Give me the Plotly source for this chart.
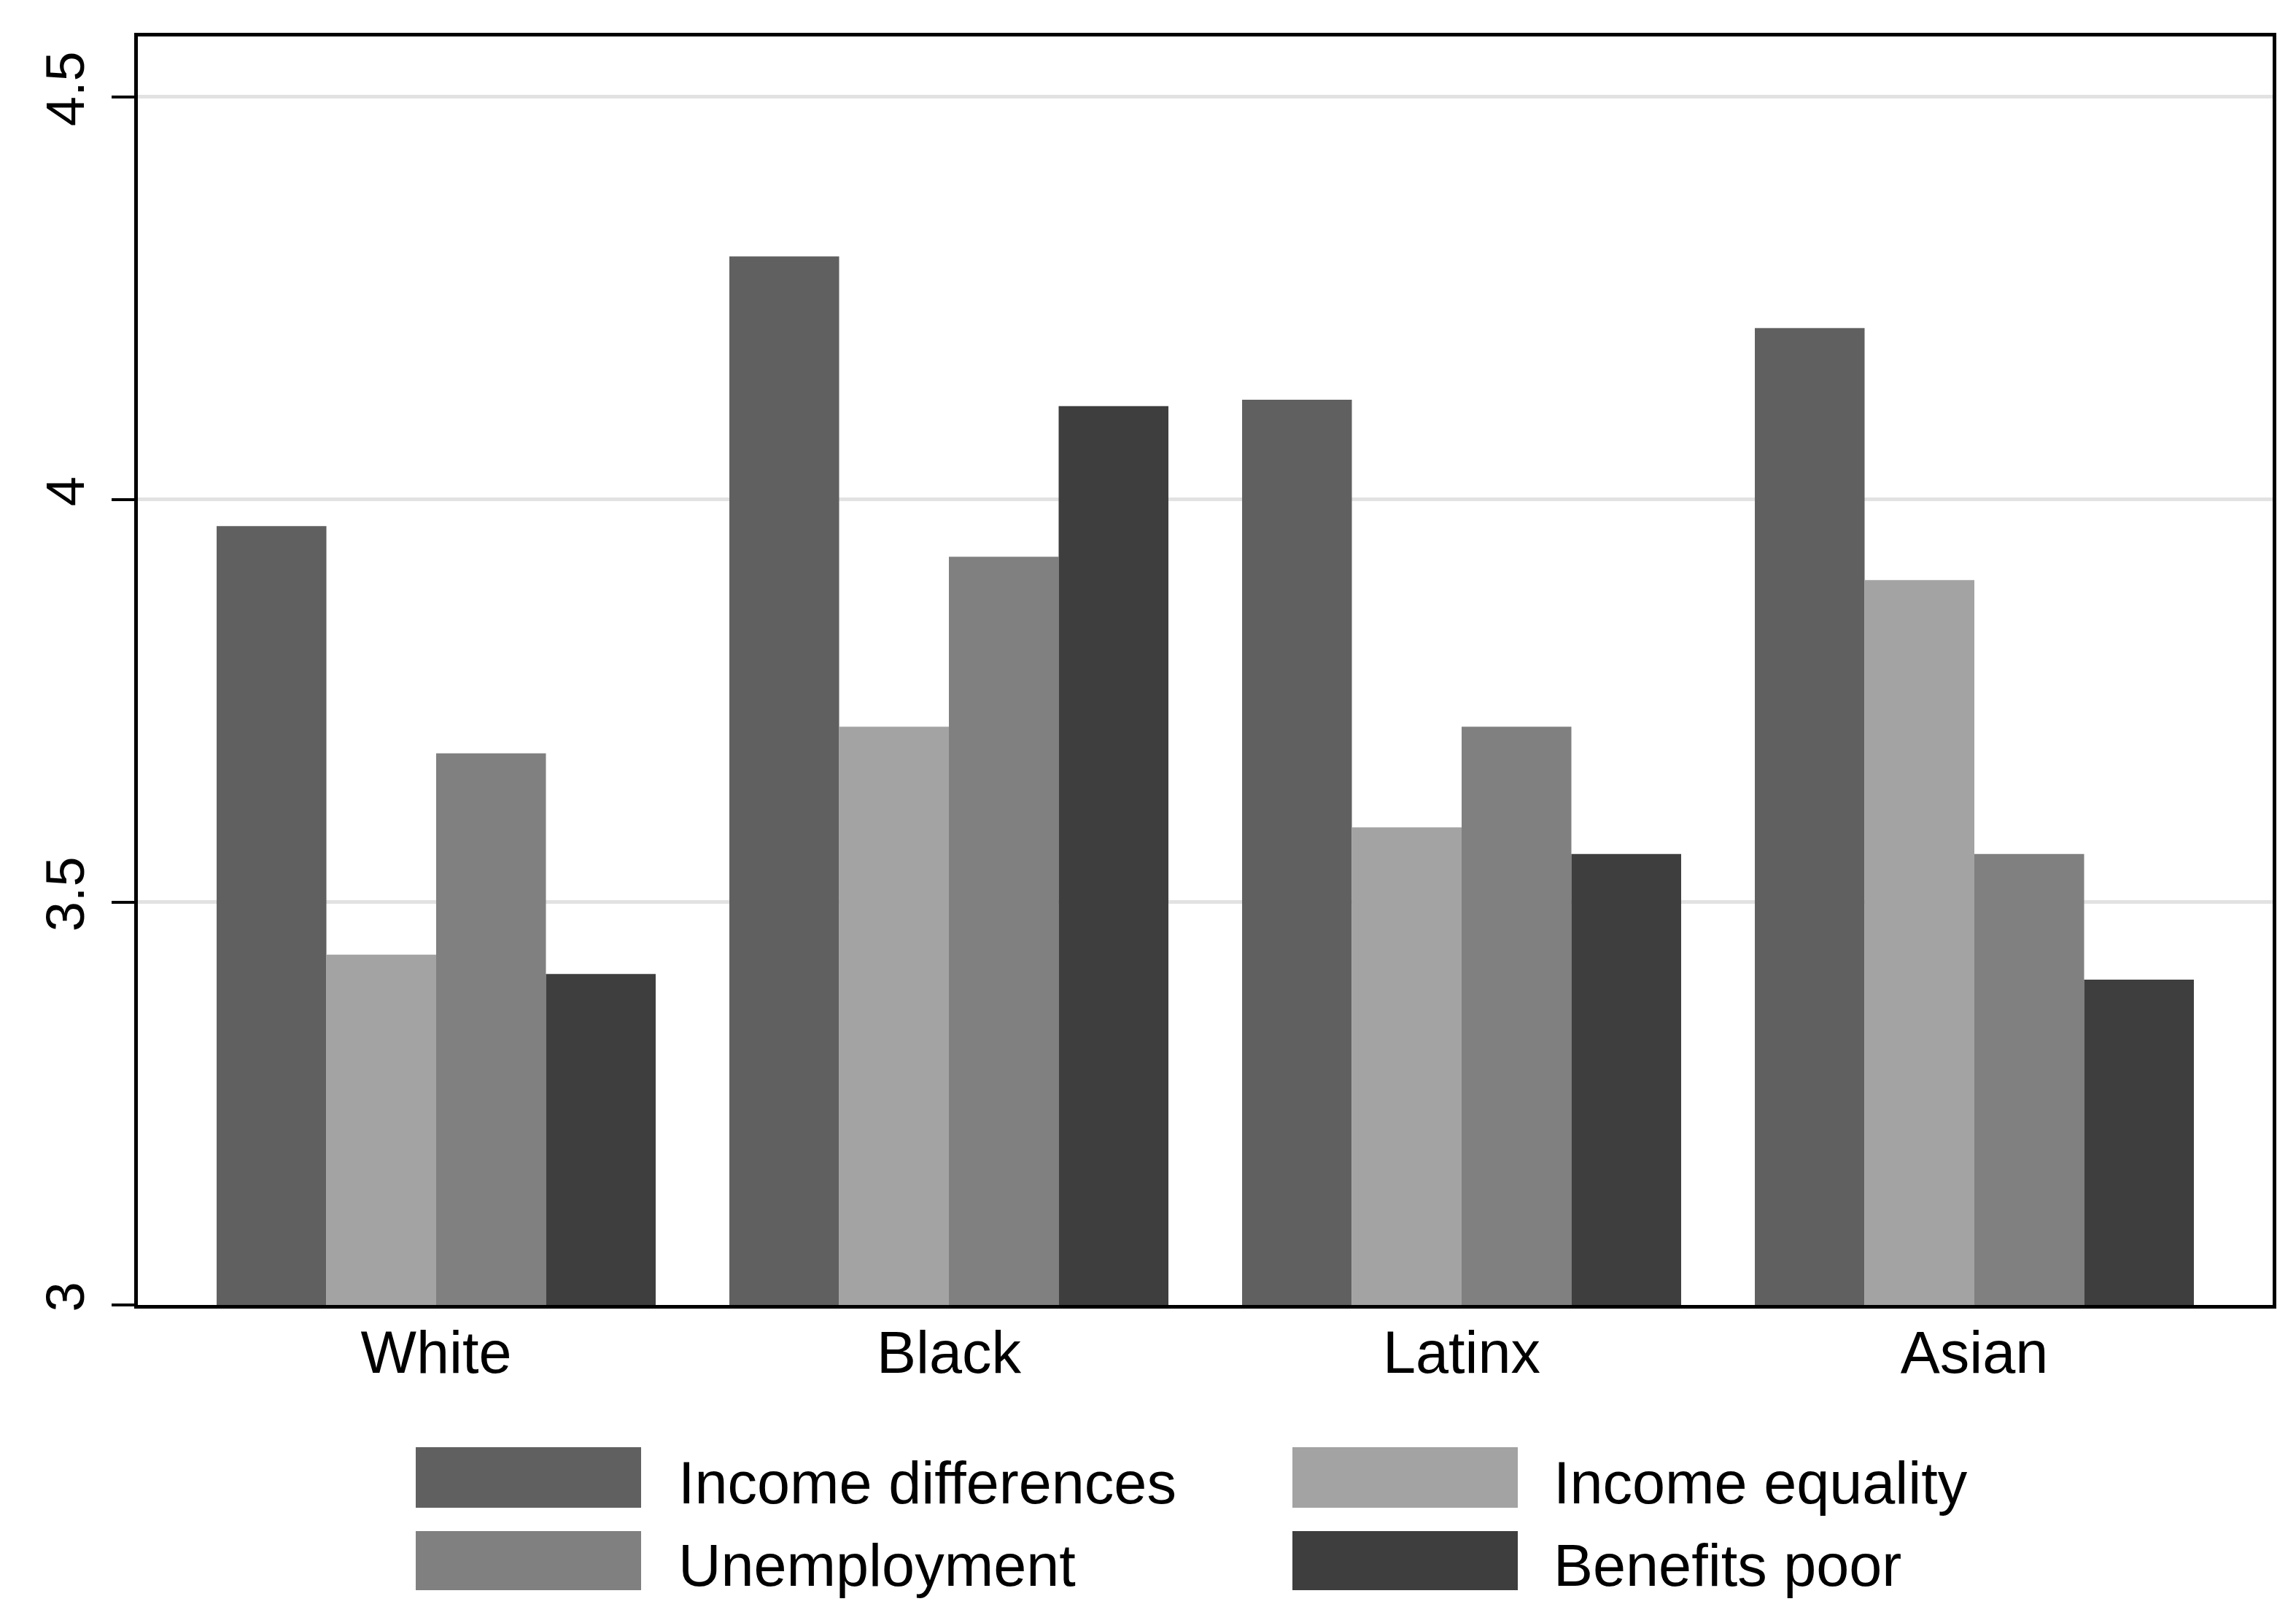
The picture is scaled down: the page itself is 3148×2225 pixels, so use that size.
import plotly.graph_objects as go

categories = ["White", "Black", "Latinx", "Asian"]
series_names = ["Income differences", "Income equality", "Unemployment", "Benefits poor"]
income_differences = [3.967, 4.302, 4.124, 4.213]
income_equality = [3.435, 3.718, 3.593, 3.900]
unemployment = [3.685, 3.929, 3.718, 3.560]
benefits_poor = [3.411, 4.116, 3.560, 3.404]
y_tick_values = [3, 3.5, 4, 4.5]
y_tick_labels = ["3", "3.5", "4", "4.5"]

series_values = [income_differences, income_equality, unemployment, benefits_poor]
colors = ["#606060", "#a3a3a3", "#808080", "#3e3e3e"]

FONT = "Liberation Sans, Arial, Helvetica, sans-serif"
W, H = 3148, 2225
L, R, T, B = 181, 40, 42, 444
pw, ph = W - L - R, H - T - B

fig = go.Figure()
for name, vals, col in zip(series_names, series_values, colors):
    fig.add_trace(go.Bar(x=categories, y=vals, name=name,
                         marker=dict(color=col, line=dict(width=0)),
                         showlegend=False))

# custom legend (large swatches as in the reference)
def px_to_paper_x(px):
    return (px - L) / pw

def px_to_paper_y(py):
    return (H - B - py) / ph

legend_layout = [
    # (swatch x0, x1, y0, y1, text x, text y) in pixels
    (562, 871, 1976, 2059, 920, 2025),
    (1764, 2073, 1976, 2059, 2120, 2025),
    (562, 871, 2091, 2172, 920, 2138),
    (1764, 2073, 2091, 2172, 2120, 2138),
]
for (x0, x1, y0, y1, tx, ty), name, col in zip(legend_layout, series_names, colors):
    fig.add_shape(type="rect", xref="paper", yref="paper",
                  x0=px_to_paper_x(x0), x1=px_to_paper_x(x1),
                  y0=px_to_paper_y(y0), y1=px_to_paper_y(y1),
                  fillcolor=col, line=dict(width=0), layer="above")
    fig.add_annotation(xref="paper", yref="paper", x=px_to_paper_x(tx), y=px_to_paper_y(ty),
                       text=name, showarrow=False, xanchor="left", yanchor="middle",
                       font=dict(family=FONT, size=81, color="black"))

fig.update_layout(
    width=W, height=H,
    margin=dict(l=L, r=R, t=T, b=B, pad=0),
    paper_bgcolor="white", plot_bgcolor="white",
    barmode="group", bargap=0.1437, bargroupgap=0,
    font=dict(family=FONT, color="black"),
    showlegend=False,
)
fig.update_xaxes(
    range=[-0.5818, 3.5818], showgrid=False, zeroline=False,
    showline=True, linecolor="black", linewidth=5, mirror=True,
    ticks="", ticklabelstandoff=-9,
    tickfont=dict(family=FONT, size=81, color="black"),
)
fig.update_yaxes(
    range=[3, 4.575], tickvals=y_tick_values, ticktext=y_tick_labels,
    showgrid=True, gridcolor="#e2e2e2", gridwidth=5, zeroline=False,
    showline=True, linecolor="black", linewidth=5, mirror=True,
    ticks="outside", ticklen=31, tickwidth=4, tickcolor="black",
    tickangle=-90, ticklabelstandoff=8,
    tickfont=dict(family=FONT, size=74, color="black"),
)

fig.write_html("out.html")
